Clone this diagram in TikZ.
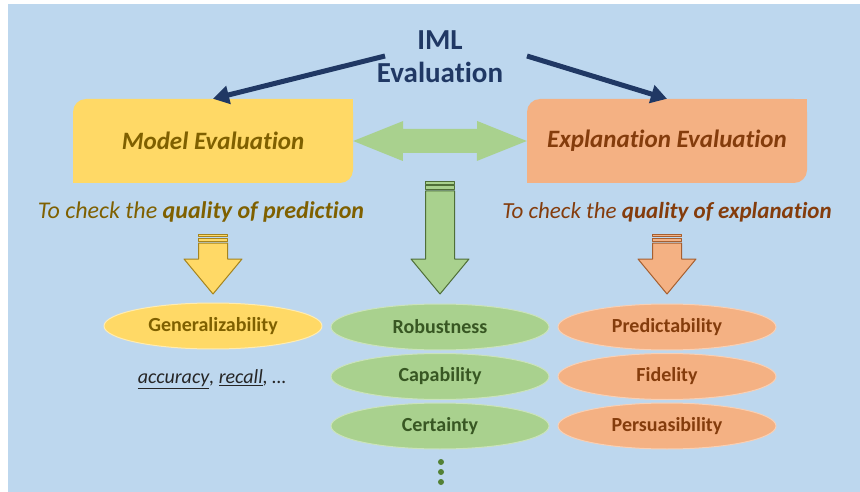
\documentclass[tikz,border=0pt]{standalone}
\usepackage{fontspec}
\setmainfont{Carlito}[Ligatures=NoCommon]
\usetikzlibrary{arrows.meta,shapes.geometric}
\definecolor{bgblue}{HTML}{BDD7EE}
\definecolor{navy}{HTML}{203864}
\definecolor{ylwfill}{HTML}{FFD966}
\definecolor{ylwtext}{HTML}{7F6000}
\definecolor{orgfill}{HTML}{F4B183}
\definecolor{orgtext}{HTML}{843C0C}
\definecolor{grnfill}{HTML}{A9D18E}
\definecolor{grntext}{HTML}{385723}
\definecolor{dotgreen}{HTML}{538135}
% striped block arrow: centre x, top y, fill, line
\newcommand{\blkarrow}[4]{%
  \filldraw[fill=#3,draw=#4,line width=1] (#1-14.5,#2) rectangle (#1+14.5,#2+2.5);
  \filldraw[fill=#3,draw=#4,line width=1] (#1-14.5,#2+4) rectangle (#1+14.5,#2+7.5);
  \filldraw[fill=#3,draw=#4,line width=1] (#1-14.5,#2+9) -- (#1-14.5,259) -- (#1-29,259) -- (#1,294) -- (#1+29,259) -- (#1+14.5,259) -- (#1+14.5,#2+9) -- cycle;}
\begin{document}
\begin{tikzpicture}[x=1pt,y=-1pt,line join=round,
  evalbox/.style={rounded corners=13,minimum width=280,minimum height=84,inner sep=0,font=\fontsize{25}{30}\selectfont\bfseries\itshape},
  crit/.style={ellipse,minimum width=218,minimum height=46,inner sep=0,line width=1,font=\fontsize{20}{24}\selectfont\bfseries},
  caption/.style={inner sep=0,font=\fontsize{23}{27}\selectfont\itshape},
  navyarrow/.style={navy,line width=5,-{Triangle[length=16,width=18]}}]
\useasboundingbox (0,0) rectangle (860,492);
\fill[white] (0,0) rectangle (860,492);
\fill[bgblue] (8,4) rectangle (860,492);
% title
\node[align=center,text=navy,inner sep=0,font=\fontsize{29}{33}\selectfont\bfseries] (iml) at (440,57) {IML\\Evaluation};
% two kinds of evaluation
\node[evalbox,fill=ylwfill,text=ylwtext] (model) at (213,141) {Model Evaluation};
\node[evalbox,fill=orgfill,text=orgtext] (expl) at (667,141) {Explanation Evaluation};
\fill[ylwfill] (model.south west) rectangle ++(13,-13);
\fill[ylwfill] (model.north east) rectangle ++(-13,13);
\fill[orgfill] (expl.south west) rectangle ++(13,-13);
\fill[orgfill] (expl.north east) rectangle ++(-13,13);
\coordinate (lstart) at (385,56);
\coordinate (rstart) at (527,56);
\draw[navyarrow] (lstart) -- (model.north);
\draw[navyarrow] (rstart) -- (expl.north);
% double arrow
\fill[grnfill] (model.east) -- ++(50,-20) -- ++(0,8) -- ++(74,0) -- ++(0,-8) -- (expl.west) -- ++(-50,20) -- ++(0,-8) -- ++(-74,0) -- ++(0,8) -- cycle;
% captions
\node[caption,text=ylwtext,font=\fontsize{24}{28}\selectfont\itshape] (predcap) at (201,212) {To check the \textbf{quality of prediction}};
\node[caption,text=orgtext] (explcap) at (667,212) {To check the \textbf{quality of explanation}};
% block arrows
\blkarrow{213}{234}{ylwfill}{ylwtext!70!ylwfill}
\blkarrow{440}{182}{grnfill}{grntext!80!grnfill}
\blkarrow{667}{234}{orgfill}{orgtext!70!orgfill}
% criteria
\node[crit,fill=ylwfill,draw=ylwfill!50!white,text=ylwtext] (gen) at (213,326) {Generalizability};
\node[caption,text=black!85,font=\fontsize{20}{24}\selectfont\itshape] (metrics) at (212,379) {\underline{accuracy}, \underline{recall}, \dots};
\foreach \name/\txt [count=\i from 0] in {rob/Robustness,cap/Capability,cer/Certainty}
  \node[crit,fill=grnfill,draw=grnfill!60!white,text=grntext] (\name) at (440,327+49.5*\i) {\txt};
\foreach \name/\txt [count=\i from 0] in {pre/Predictability,fid/Fidelity,per/Persuasibility}
  \node[crit,fill=orgfill,draw=orgfill!60!white,text=orgtext] (\name) at (667,327+49.5*\i) {\txt};
\foreach \y in {462,472,482}
  \fill[dotgreen] (441,\y) circle (3);
\end{tikzpicture}
\end{document}
